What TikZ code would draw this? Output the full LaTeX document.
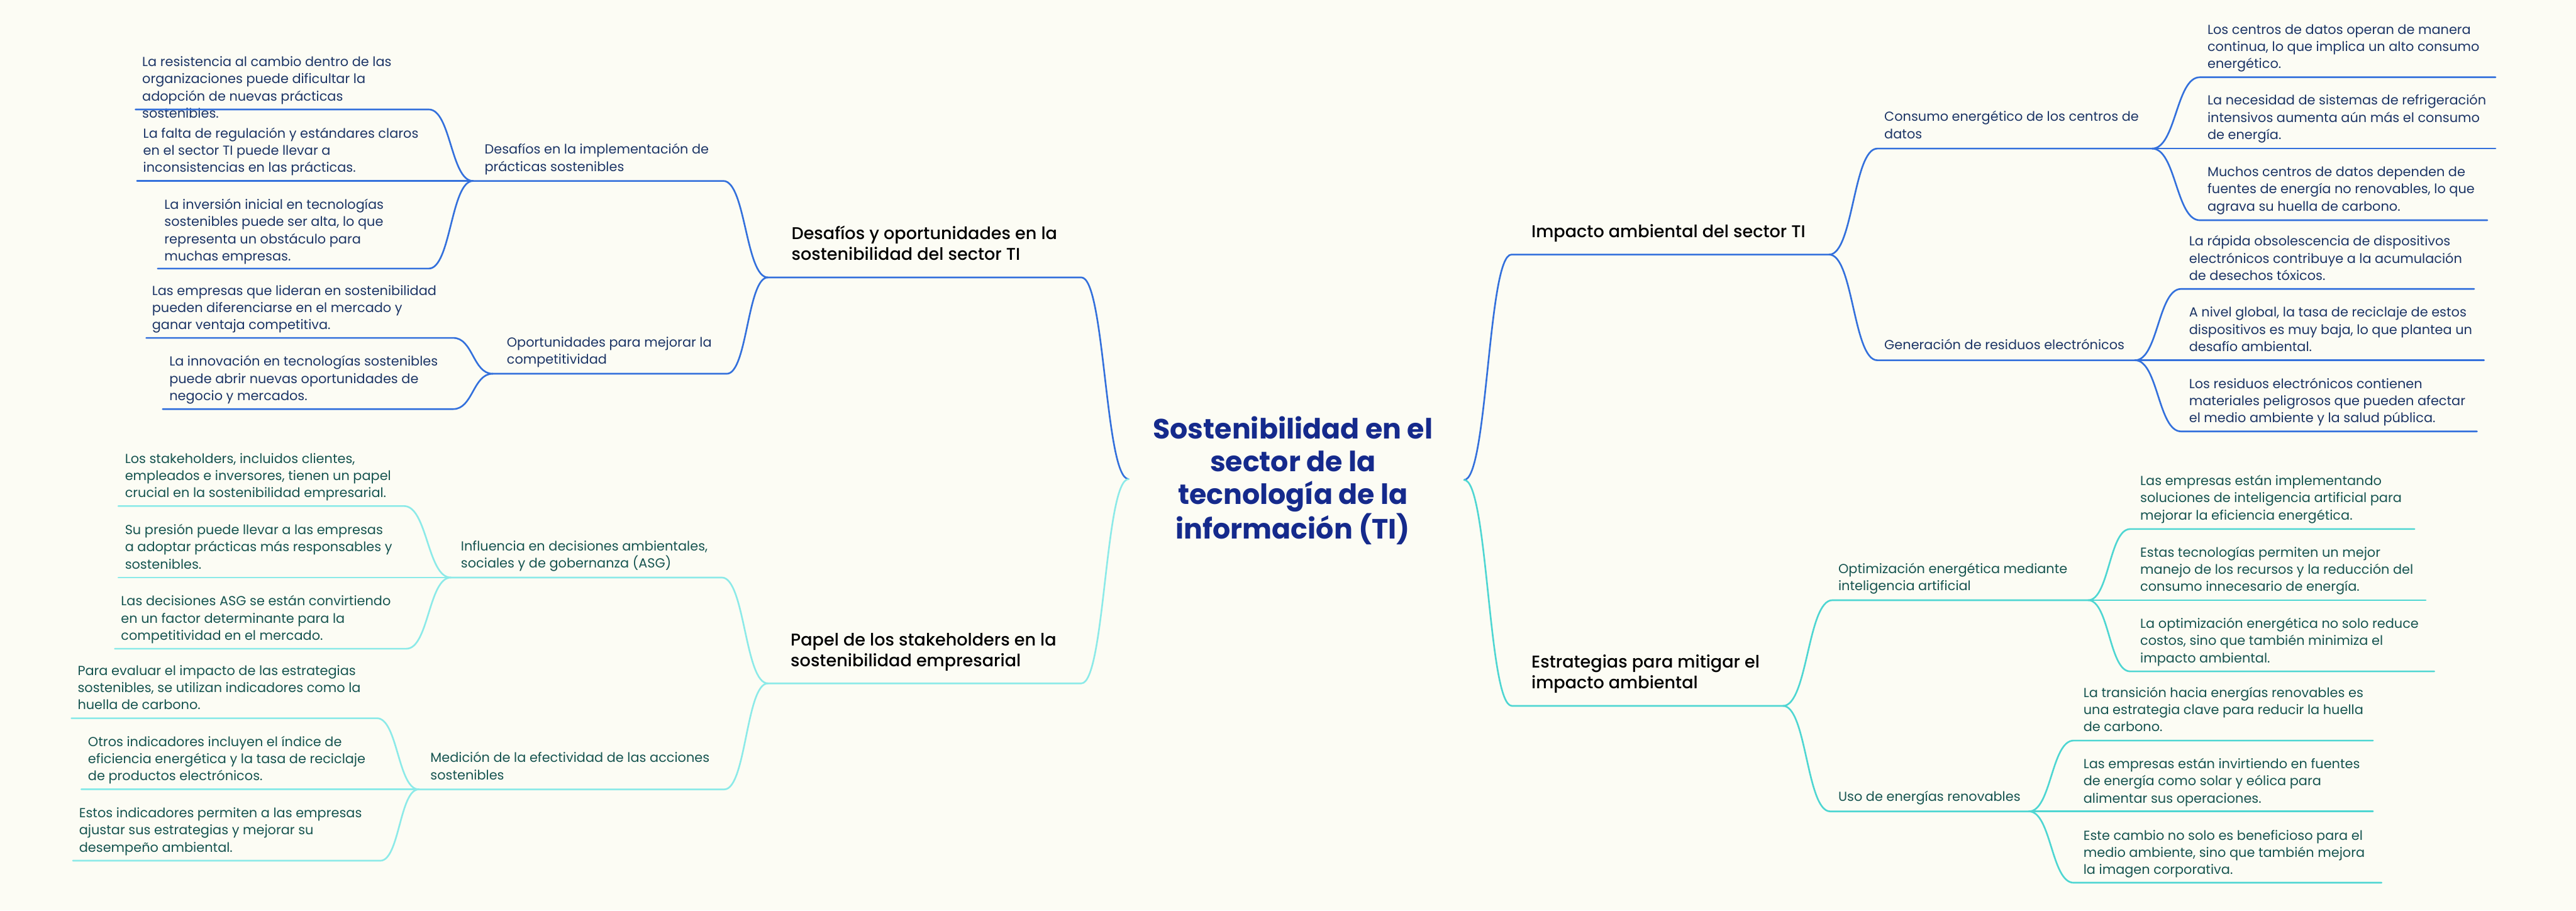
\documentclass[tikz,border=0pt]{standalone}
\usepackage{fontspec}
\setmainfont{Poppins}
\newfontfamily\medfont{Poppins Medium}
\usepackage{xcolor}
\usepackage{tikz}
\definecolor{bgcolor}{RGB}{252,252,244}
\definecolor{titlecolor}{RGB}{21,42,140}
\definecolor{bluecolor}{RGB}{51,112,220}
\definecolor{tealcolor}{RGB}{78,214,210}
\definecolor{cyancolor}{RGB}{140,234,232}
\definecolor{navytext}{RGB}{28,53,102}
\definecolor{tealtext}{RGB}{22,84,80}
\usetikzlibrary{calc}

\begin{document}
\begin{tikzpicture}[
    x=0.03828cm, y=-0.03828cm,
    title/.style={align=center, inner sep=0, text=titlecolor, font={\fontsize{18.5}{21.7}\selectfont\bfseries}},
    mainbox/.style={align=left, inner sep=0, anchor=base west, text=black, font={\fontsize{11.3}{13.7}\selectfont\medfont}},
    subbox/.style={align=left, inner sep=0, anchor=base west, font={\fontsize{8.7}{11.4}\selectfont}},
    leafbox/.style={subbox},
    branchcurve/.style={to path={.. controls ($(\tikztostart)!0.5!(\tikztotarget |- \tikztostart)$) and ($(\tikztotarget)!0.5!(\tikztostart |- \tikztotarget)$) .. (\tikztotarget)}},
    blueline/.style={draw=bluecolor, line width=1.1pt, line cap=round},
    tealline/.style={draw=tealcolor, line width=1.1pt, line cap=round},
    cyanline/.style={draw=cyancolor, line width=1.1pt, line cap=round}
]
    % Background
    \useasboundingbox (0,0) rectangle (1568,554);
    \fill[bgcolor] (0,0) rectangle (1568,554);

    % Central topic
    \node[title] (center) at (787,292.5) {Sostenibilidad en el\\sector de la\\tecnología de la\\información (TI)};
    \coordinate (jL) at (687,291.5);
    \coordinate (jR) at (891.2,292);

    % ---------- Impacto ambiental (right, top) ----------
    \coordinate (imp-s) at (920,154.9);    \coordinate (imp-e) at (1113.4,154.9);
    \coordinate (con-s) at (1142.7,90.4);  \coordinate (con-e) at (1310,90.4);
    \coordinate (gen-s) at (1142.7,219.2); \coordinate (gen-e) at (1299.6,219.2);
    \coordinate (con1-s) at (1339,47);     \coordinate (con1-e) at (1519,47);
    \coordinate (con2-e) at (1519,90.4);
    \coordinate (con3-s) at (1339,134);    \coordinate (con3-e) at (1514,134);
    \coordinate (gen1-s) at (1327.6,175.8); \coordinate (gen1-e) at (1506,175.8);
    \coordinate (gen2-e) at (1512,219.2);
    \coordinate (gen3-s) at (1327.6,262.5); \coordinate (gen3-e) at (1507.7,262.5);

    \node[mainbox] (imp) at (932,144.6) {Impacto ambiental del sector TI};
    \node[subbox, text=navytext] (con) at (1146.8,84.3) {Consumo energético de los centros de\\datos};
    \node[subbox, text=navytext] (gen) at (1146.8,212.6) {Generación de residuos electrónicos};
    \node[leafbox, text=navytext] (con1) at (1343.5,41.6) {Los centros de datos operan de manera\\continua, lo que implica un alto consumo\\energético.};
    \node[leafbox, text=navytext] (con2) at (1343.5,84.8) {La necesidad de sistemas de refrigeración\\intensivos aumenta aún más el consumo\\de energía.};
    \node[leafbox, text=navytext] (con3) at (1343.5,128.3) {Muchos centros de datos dependen de\\fuentes de energía no renovables, lo que\\agrava su huella de carbono.};
    \node[leafbox, text=navytext] (gen1) at (1332.3,170.6) {La rápida obsolescencia de dispositivos\\electrónicos contribuye a la acumulación\\de desechos tóxicos.};
    \node[leafbox, text=navytext] (gen2) at (1332.3,213.8) {A nivel global, la tasa de reciclaje de estos\\dispositivos es muy baja, lo que plantea un\\desafío ambiental.};
    \node[leafbox, text=navytext] (gen3) at (1332.3,257.2) {Los residuos electrónicos contienen\\materiales peligrosos que pueden afectar\\el medio ambiente y la salud pública.};

    \draw[blueline] (jR) to[branchcurve] (imp-s) -- (imp-e);
    \draw[blueline] (imp-e) to[branchcurve] (con-s) -- (con-e);
    \draw[blueline] (imp-e) to[branchcurve] (gen-s) -- (gen-e);
    \draw[blueline] (con-e) to[branchcurve] (con1-s) -- (con1-e);
    \draw[blueline] (con-e) -- (con2-e);
    \draw[blueline] (con-e) to[branchcurve] (con3-s) -- (con3-e);
    \draw[blueline] (gen-e) to[branchcurve] (gen1-s) -- (gen1-e);
    \draw[blueline] (gen-e) -- (gen2-e);
    \draw[blueline] (gen-e) to[branchcurve] (gen3-s) -- (gen3-e);

    % ---------- Estrategias (right, bottom) ----------
    \coordinate (est-s) at (920.3,429.5);  \coordinate (est-e) at (1085.3,429.5);
    \coordinate (opt-s) at (1115.3,365.2); \coordinate (opt-e) at (1271,365.2);
    \coordinate (uso-s) at (1114,493.7);   \coordinate (uso-e) at (1235,493.7);
    \coordinate (opt1-s) at (1296.6,321.9); \coordinate (opt1-e) at (1469.7,321.9);
    \coordinate (opt2-e) at (1476.5,365.2);
    \coordinate (opt3-s) at (1296.6,408.5); \coordinate (opt3-e) at (1481.7,408.5);
    \coordinate (uso1-s) at (1262.2,450.6); \coordinate (uso1-e) at (1444.4,450.6);
    \coordinate (uso2-e) at (1444.4,493.7);
    \coordinate (uso3-s) at (1262.2,537.1); \coordinate (uso3-e) at (1449.6,537.1);

    \node[mainbox] (est) at (932,419.1) {Estrategias para mitigar el\\impacto ambiental};
    \node[subbox, text=tealtext] (opt) at (1118.8,359.2) {Optimización energética mediante\\inteligencia artificial};
    \node[subbox, text=tealtext] (uso) at (1118.8,487.5) {Uso de energías renovables};
    \node[leafbox, text=tealtext] (opt1) at (1302.6,316.3) {Las empresas están implementando\\soluciones de inteligencia artificial para\\mejorar la eficiencia energética.};
    \node[leafbox, text=tealtext] (opt2) at (1302.6,359.8) {Estas tecnologías permiten un mejor\\manejo de los recursos y la reducción del\\consumo innecesario de energía.};
    \node[leafbox, text=tealtext] (opt3) at (1302.6,403.2) {La optimización energética no solo reduce\\costos, sino que también minimiza el\\impacto ambiental.};
    \node[leafbox, text=tealtext] (uso1) at (1268,445.1) {La transición hacia energías renovables es\\una estrategia clave para reducir la huella\\de carbono.};
    \node[leafbox, text=tealtext] (uso2) at (1268,488.5) {Las empresas están invirtiendo en fuentes\\de energía como solar y eólica para\\alimentar sus operaciones.};
    \node[leafbox, text=tealtext] (uso3) at (1268,532) {Este cambio no solo es beneficioso para el\\medio ambiente, sino que también mejora\\la imagen corporativa.};

    \draw[tealline] (jR) to[branchcurve] (est-s) -- (est-e);
    \draw[tealline] (est-e) to[branchcurve] (opt-s) -- (opt-e);
    \draw[tealline] (est-e) to[branchcurve] (uso-s) -- (uso-e);
    \draw[tealline] (opt-e) to[branchcurve] (opt1-s) -- (opt1-e);
    \draw[tealline] (opt-e) -- (opt2-e);
    \draw[tealline] (opt-e) to[branchcurve] (opt3-s) -- (opt3-e);
    \draw[tealline] (uso-e) to[branchcurve] (uso1-s) -- (uso1-e);
    \draw[tealline] (uso-e) -- (uso2-e);
    \draw[tealline] (uso-e) to[branchcurve] (uso3-s) -- (uso3-e);

    % ---------- Desafíos y oportunidades (left, top) ----------
    \coordinate (des-s) at (467.4,168.8);  \coordinate (des-e) at (658.2,168.8);
    \coordinate (dif-s) at (287.9,110.1);  \coordinate (dif-e) at (440.3,110.1);
    \coordinate (opo-s) at (299.9,227.4);  \coordinate (opo-e) at (442.4,227.4);
    \coordinate (dif1-s) at (82.5,66.6);   \coordinate (dif1-e) at (261,66.6);
    \coordinate (dif2-s) at (83.4,110.1);
    \coordinate (dif3-s) at (96,163.4);    \coordinate (dif3-e) at (261,163.4);
    \coordinate (opo1-s) at (89,205.6);    \coordinate (opo1-e) at (275.9,205.6);
    \coordinate (opo2-s) at (99,248.9);    \coordinate (opo2-e) at (275.9,248.9);

    \node[mainbox] (des) at (481.6,158.2) {Desafíos y oportunidades en la\\sostenibilidad del sector TI};
    \node[subbox, text=navytext] (dif) at (294.8,104.2) {Desafíos en la implementación de\\prácticas sostenibles};
    \node[subbox, text=navytext] (opo) at (308.3,221.5) {Oportunidades para mejorar la\\competitividad};
    \node[leafbox, text=navytext] (dif1) at (86.4,71.8) {La resistencia al cambio dentro de las\\organizaciones puede dificultar la\\adopción de nuevas prácticas\\sostenibles.};
    \node[leafbox, text=navytext] (dif2) at (87,104.8) {La falta de regulación y estándares claros\\en el sector TI puede llevar a\\inconsistencias en las prácticas.};
    \node[leafbox, text=navytext] (dif3) at (99.9,158.7) {La inversión inicial en tecnologías\\sostenibles puede ser alta, lo que\\representa un obstáculo para\\muchas empresas.};
    \node[leafbox, text=navytext] (opo1) at (92.4,200.5) {Las empresas que lideran en sostenibilidad\\pueden diferenciarse en el mercado y\\ganar ventaja competitiva.};
    \node[leafbox, text=navytext] (opo2) at (102.9,243.6) {La innovación en tecnologías sostenibles\\puede abrir nuevas oportunidades de\\negocio y mercados.};

    \draw[blueline] (jL) to[branchcurve] (des-e) -- (des-s);
    \draw[blueline] (des-s) to[branchcurve] (dif-e) -- (dif-s);
    \draw[blueline] (des-s) to[branchcurve] (opo-e) -- (opo-s);
    \draw[blueline] (dif-s) to[branchcurve] (dif1-e) -- (dif1-s);
    \draw[blueline] (dif-s) -- (dif2-s);
    \draw[blueline] (dif-s) to[branchcurve] (dif3-e) -- (dif3-s);
    \draw[blueline] (opo-s) to[branchcurve] (opo1-e) -- (opo1-s);
    \draw[blueline] (opo-s) to[branchcurve] (opo2-e) -- (opo2-s);

    % ---------- Papel de los stakeholders (left, bottom) ----------
    \coordinate (pap-s) at (467.4,415.8);  \coordinate (pap-e) at (658.2,415.8);
    \coordinate (inf-s) at (274.4,351.4);  \coordinate (inf-e) at (439.4,351.4);
    \coordinate (med-s) at (254.9,480.3);  \coordinate (med-e) at (440.9,480.3);
    \coordinate (inf1-s) at (72,307.9);    \coordinate (inf1-e) at (245.9,307.9);
    \coordinate (inf2-s) at (72,351.4);
    \coordinate (inf3-s) at (69.9,394.7);  \coordinate (inf3-e) at (247.4,394.7);
    \coordinate (med1-s) at (43.5,437);    \coordinate (med1-e) at (229.4,437);
    \coordinate (med2-s) at (49.5,480.3);
    \coordinate (med3-s) at (44.4,523.7);  \coordinate (med3-e) at (231.5,523.7);

    \node[mainbox] (pap) at (481.1,405.5) {Papel de los stakeholders en la\\sostenibilidad empresarial};
    \node[subbox, text=tealtext] (inf) at (280.4,345.5) {Influencia en decisiones ambientales,\\sociales y de gobernanza (ASG)};
    \node[subbox, text=tealtext] (med) at (261.8,474.3) {Medición de la efectividad de las acciones\\sostenibles};
    \node[leafbox, text=tealtext] (inf1) at (75.9,302.7) {Los stakeholders, incluidos clientes,\\empleados e inversores, tienen un papel\\crucial en la sostenibilidad empresarial.};
    \node[leafbox, text=tealtext] (inf2) at (75.9,346.1) {Su presión puede llevar a las empresas\\a adoptar prácticas más responsables y\\sostenibles.};
    \node[leafbox, text=tealtext] (inf3) at (73.5,389.5) {Las decisiones ASG se están convirtiendo\\en un factor determinante para la\\competitividad en el mercado.};
    \node[leafbox, text=tealtext] (med1) at (47.1,431.8) {Para evaluar el impacto de las estrategias\\sostenibles, se utilizan indicadores como la\\huella de carbono.};
    \node[leafbox, text=tealtext] (med2) at (53.4,475) {Otros indicadores incluyen el índice de\\eficiencia energética y la tasa de reciclaje\\de productos electrónicos.};
    \node[leafbox, text=tealtext] (med3) at (48,518.4) {Estos indicadores permiten a las empresas\\ajustar sus estrategias y mejorar su\\desempeño ambiental.};

    \draw[cyanline] (jL) to[branchcurve] (pap-e) -- (pap-s);
    \draw[cyanline] (pap-s) to[branchcurve] (inf-e) -- (inf-s);
    \draw[cyanline] (pap-s) to[branchcurve] (med-e) -- (med-s);
    \draw[cyanline] (inf-s) to[branchcurve] (inf1-e) -- (inf1-s);
    \draw[cyanline] (inf-s) -- (inf2-s);
    \draw[cyanline] (inf-s) to[branchcurve] (inf3-e) -- (inf3-s);
    \draw[cyanline] (med-s) to[branchcurve] (med1-e) -- (med1-s);
    \draw[cyanline] (med-s) -- (med2-s);
    \draw[cyanline] (med-s) to[branchcurve] (med3-e) -- (med3-s);
\end{tikzpicture}
\end{document}
